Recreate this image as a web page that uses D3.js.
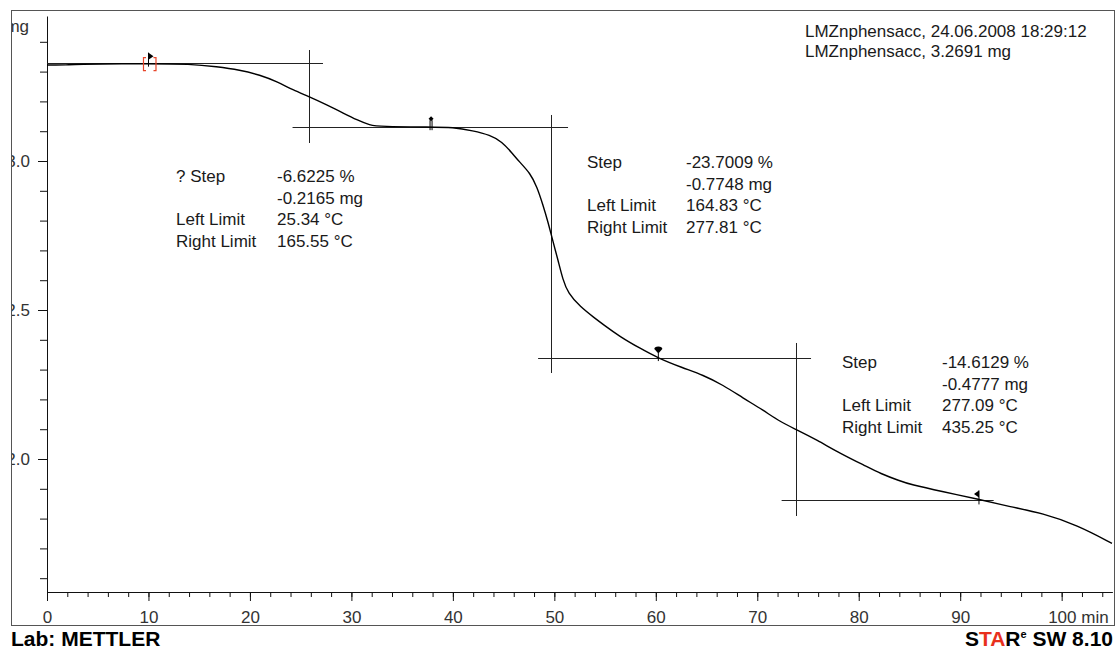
<!DOCTYPE html>
<html>
<head>
<meta charset="utf-8">
<script src="https://cdn.jsdelivr.net/npm/d3@7"></script>
<style>
  html, body { margin: 0; padding: 0; background: #fff; }
  svg { display: block; font-family: "Liberation Sans", Arial, sans-serif; }
</style>
</head>
<body>
<svg id="chart" width="1118" height="650"></svg>
<script>
// TGA mass-loss curve: time (min) vs sample mass (mg)
const timeMin = [0, 2.2, 2.3, 10.15, 14.1, 16.75, 19.0, 21.0, 22.67, 24.24, 25.82, 27.6, 29.17, 30.55, 31.83, 32.82,
  37.84, 40.0, 41.98, 43.66, 44.84, 45.83, 46.61, 47.6, 48.29, 48.88, 49.37, 49.87, 50.36, 50.85, 51.35, 52.53,
  54.01, 54.79, 56.47, 58.44, 60.21, 62.68, 64.65, 66.62, 68.59, 70.56, 72.24, 73.81, 75.88, 78.15, 80.81, 82.09,
  84.06, 85.05, 88.3, 91.85, 94.9, 98.16, 101.51, 104.96];
const massMg = [3.322, 3.322, 3.325, 3.327, 3.3255, 3.3164, 3.3054, 3.2886, 3.2661, 3.2383, 3.2158, 3.1879, 3.1611, 3.1376, 3.1198, 3.1158,
  3.1141, 3.1131, 3.1017, 3.0872, 3.0648, 3.0268, 2.9950, 2.9600, 2.9138, 2.8523, 2.7963, 2.7292, 2.6678, 2.6007, 2.557, 2.5111,
  2.4721, 2.4520, 2.4104, 2.3715, 2.3389, 2.3054, 2.2819, 2.2483, 2.2047, 2.1644, 2.1252, 2.0997, 2.0638, 2.0191, 1.9742, 1.9520,
  1.9262, 1.9150, 1.8903, 1.8648, 1.8399, 1.8178, 1.7785, 1.7171];

// Step evaluation (horizontal baselines chained by step heights)
const baselineStart = 3.330;
const stepMg = [-0.2165, -0.7748, -0.4777];
const stepPct = ["-6.6225 %", "-23.7009 %", "-14.6129 %"];
const stepMgText = ["-0.2165 mg", "-0.7748 mg", "-0.4777 mg"];
const leftLimit = ["25.34 °C", "164.83 °C", "277.09 °C"];
const rightLimit = ["165.55 °C", "277.81 °C", "435.25 °C"];
const stepTitle = ["? Step", "Step", "Step"];
// inflection time of each step and the vertical extent of its marker line (mg)
const inflectionMin = [25.82, 49.67, 73.81];
const inflectionSpan = [[3.3725, 3.0604], [3.1544, 2.2886], [2.3893, 1.8087]];
// extent (min) of each horizontal baseline
const baselineSpan = [[0, 27.2], [24.2, 51.35], [48.4, 75.3], [72.4, 93.3]];
// limit markers (min)
const limitMin = [10.15, 37.85, 60.25, 91.85];

// axis ticks
const xMinorTicks = d3.range(0, 105, 2);
const xMajorTicks = d3.range(0, 101, 10);
const yMinorTicks = d3.range(16, 35).map(v => v / 10);
const yMajorTicks = [2.0, 2.5, 3.0];

const header = ["LMZnphensacc, 24.06.2008 18:29:12", "LMZnphensacc, 3.2691 mg"];

const svg = d3.select("#chart");
const x = d3.scaleLinear().domain([0, 105]).range([47, 1112.4]);
const y = d3.scaleLinear().domain([1.5537, 3.4866]).range([592, 16]);

const levels = [baselineStart];
stepMg.forEach(d => levels.push(levels[levels.length - 1] + d));

svg.append("defs").append("clipPath").attr("id", "frameClip")
  .append("rect").attr("x", 11.5).attr("y", 10.5).attr("width", 1103).attr("height", 615);

const g = svg.append("g").attr("clip-path", "url(#frameClip)");

// X axis: minor then major ticks
g.append("g").attr("transform", "translate(0,592)")
  .call(d3.axisBottom(x).tickValues(xMinorTicks).tickSize(5).tickSizeOuter(0).tickFormat(""))
  .call(a => a.select(".domain").attr("stroke", "#111"))
  .call(a => a.selectAll(".tick line").attr("stroke", "#111"));
const xMaj = g.append("g").attr("transform", "translate(0,592)")
  .call(d3.axisBottom(x).tickValues(xMajorTicks).tickSize(9).tickSizeOuter(0).tickPadding(10)
    .tickFormat(d => d === 100 ? "100 min" : d));
xMaj.select(".domain").remove();
xMaj.selectAll(".tick line").attr("stroke", "#111");
xMaj.selectAll(".tick text").attr("font-size", 17).attr("font-family", "Liberation Sans, Arial, sans-serif").attr("fill", "#333");
xMaj.selectAll(".tick text").filter(d => d === 100).attr("text-anchor", "start").attr("x", -14);

// Y axis
g.append("g").attr("transform", "translate(47,0)")
  .call(d3.axisLeft(y).tickValues(yMinorTicks).tickSize(7).tickSizeOuter(0).tickFormat(""))
  .call(a => a.select(".domain").attr("stroke", "#111"))
  .call(a => a.selectAll(".tick line").attr("stroke", "#111"));
const yMaj = g.append("g").attr("transform", "translate(47,0)")
  .call(d3.axisLeft(y).tickValues(yMajorTicks).tickSize(9).tickPadding(8).tickFormat(d3.format(".1f")));
yMaj.select(".domain").remove();
yMaj.selectAll(".tick line").attr("stroke", "#111");
yMaj.selectAll(".tick text").attr("font-size", 17).attr("font-family", "Liberation Sans, Arial, sans-serif").attr("fill", "#333");

g.append("text").attr("x", 29).attr("y", 32).attr("text-anchor", "end")
  .attr("font-size", 17).attr("fill", "#333").text("mg");

// step baselines and inflection lines
g.append("g").selectAll("line.base").data(baselineSpan).join("line")
  .attr("x1", d => x(d[0])).attr("x2", d => x(d[1]))
  .attr("y1", (d, i) => Math.round(y(levels[i])) + 0.5).attr("y2", (d, i) => Math.round(y(levels[i])) + 0.5)
  .attr("stroke", "#222").attr("stroke-width", 1);
g.append("g").selectAll("line.infl").data(inflectionMin).join("line")
  .attr("x1", d => Math.round(x(d)) + 0.5).attr("x2", d => Math.round(x(d)) + 0.5)
  .attr("y1", (d, i) => y(inflectionSpan[i][0])).attr("y2", (d, i) => y(inflectionSpan[i][1]))
  .attr("stroke", "#222").attr("stroke-width", 1);

// curve
const line = d3.line().x(d => x(d[0])).y(d => y(d[1])).curve(d3.curveBasis);
g.append("path").datum(timeMin.map((t, i) => [t, massMg[i]]))
  .attr("d", line).attr("fill", "none").attr("stroke", "#000").attr("stroke-width", 1.4);

// limit markers
const mk = g.append("g");
limitMin.forEach((t, i) => {
  const px = x(t), py = y(levels[i]);
  const m = mk.append("g").attr("transform", `translate(${px},${py})`);
  if (i === 0) {
    m.append("path").attr("d", "M-4,-5H-6.5V8H-4").attr("fill", "none").attr("stroke", "#e8452a").attr("stroke-width", 1.2);
    m.append("path").attr("d", "M3.5,-5H6V8H3.5").attr("fill", "none").attr("stroke", "#e8452a").attr("stroke-width", 1.2);
    m.append("path").attr("d", "M-1.5,-10L3.5,-6.5L-1.5,-3Z").attr("fill", "#000");
    m.append("line").attr("x1", -1.5).attr("x2", -1.5).attr("y1", -10).attr("y2", 4).attr("stroke", "#000");
  } else if (i === 1) {
    m.append("path").attr("d", "M0,-11L2.5,-8.5L0,-6L-2.5,-8.5Z").attr("fill", "#000");
    m.append("line").attr("x1", -1).attr("x2", -1).attr("y1", -7).attr("y2", 3).attr("stroke", "#000");
    m.append("line").attr("x1", 1).attr("x2", 1).attr("y1", -7).attr("y2", 3).attr("stroke", "#000");
  } else if (i === 2) {
    m.append("path").attr("d", "M-4,-9A4,2.5 0 0 1 4,-9L0,-4.5Z").attr("fill", "#000");
    m.append("line").attr("x1", 0).attr("x2", 0).attr("y1", -5).attr("y2", 3).attr("stroke", "#000");
  } else {
    m.append("path").attr("d", "M0,-10L-5,-6.5L0,-3Z").attr("fill", "#000");
    m.append("line").attr("x1", 0).attr("x2", 0).attr("y1", -10).attr("y2", 4).attr("stroke", "#000");
  }
});

// step annotations
const annoPos = [[176, 277, 182], [587, 686, 168], [842, 942, 368]];
const ann = g.append("g").attr("font-size", 17).attr("fill", "#1a1a1a");
annoPos.forEach((p, i) => {
  const rows = [[stepTitle[i], stepPct[i]], ["", stepMgText[i]], ["Left Limit", leftLimit[i]], ["Right Limit", rightLimit[i]]];
  rows.forEach((r, j) => {
    const yy = p[2] + j * 21.5;
    if (r[0]) ann.append("text").attr("x", p[0]).attr("y", yy).text(r[0]);
    ann.append("text").attr("x", p[1]).attr("y", yy).text(r[1]);
  });
});

// header
g.append("g").attr("font-size", 17).attr("fill", "#1a1a1a")
  .selectAll("text").data(header).join("text")
  .attr("x", 805).attr("y", (d, i) => 37 + i * 20).text(d => d);

// frame
svg.append("rect").attr("x", 11.5).attr("y", 10.5).attr("width", 1103).attr("height", 615)
  .attr("fill", "none").attr("stroke", "#555");

// footer
svg.append("text").attr("x", 11).attr("y", 646).attr("font-size", 21).attr("font-weight", "bold")
  .attr("fill", "#000").text("Lab: METTLER");
const star = svg.append("text").attr("x", 1113).attr("y", 646).attr("text-anchor", "end")
  .attr("font-size", 21).attr("font-weight", "bold").attr("fill", "#000");
star.append("tspan").text("S");
star.append("tspan").attr("fill", "#e8301c").text("TA");
star.append("tspan").text("R");
star.append("tspan").attr("font-size", 11).attr("dy", -8).text("e");
star.append("tspan").attr("dy", 8).text(" SW 8.10");
</script>
</body>
</html>
